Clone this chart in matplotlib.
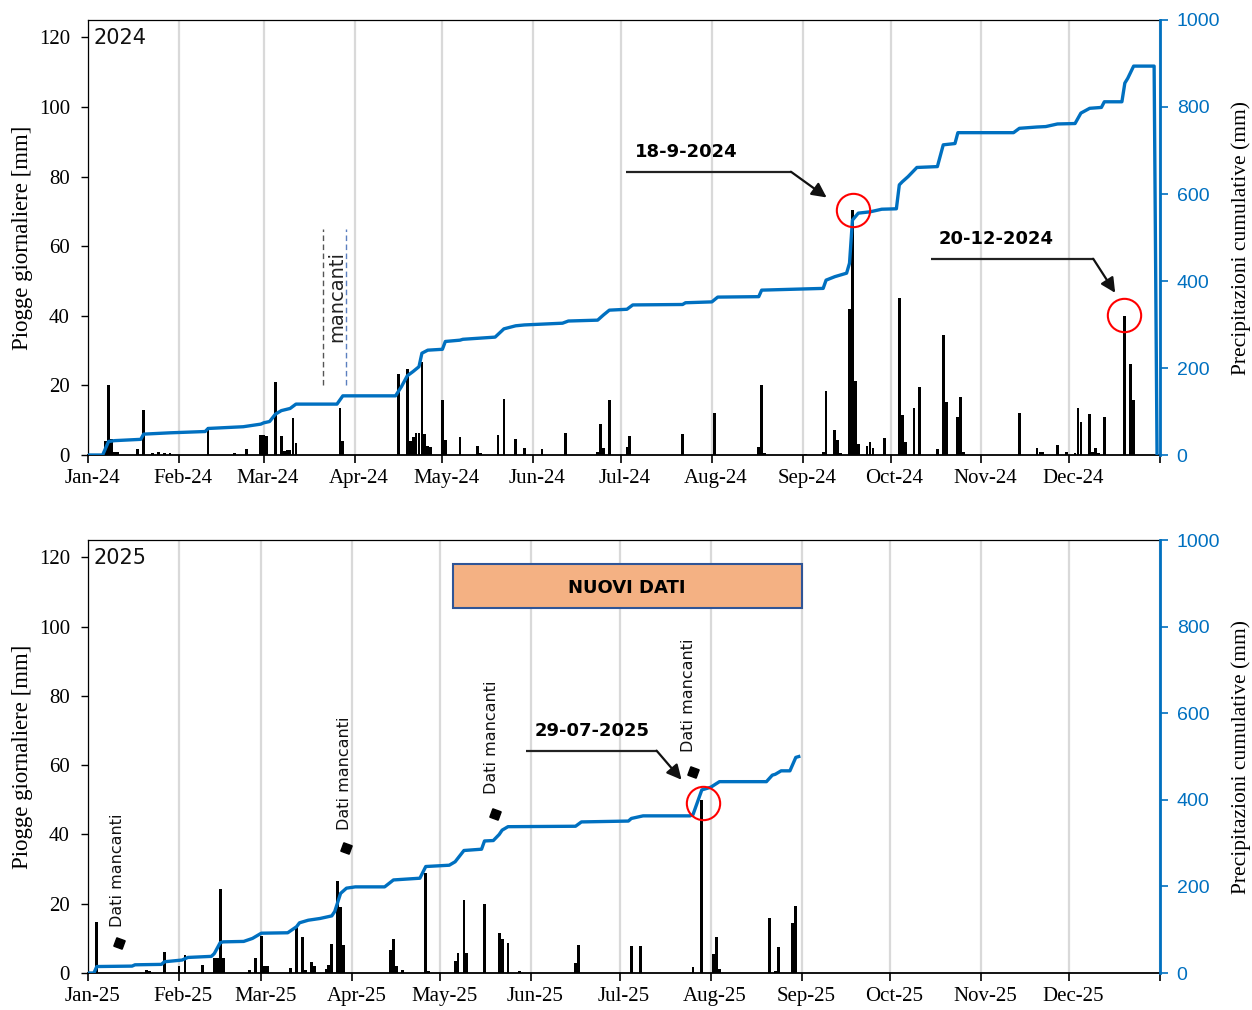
import matplotlib
matplotlib.use('Agg')
import matplotlib.pyplot as plt
import matplotlib.dates as mdates
from matplotlib.patches import Rectangle
from matplotlib.transforms import ScaledTranslation
from datetime import datetime

# ---------------- DATA ----------------
month_names = ['Jan', 'Feb', 'Mar', 'Apr', 'May', 'Jun',
               'Jul', 'Aug', 'Sep', 'Oct', 'Nov', 'Dec']

# 2024 daily rainfall (mm)
rain24_dates = ['2024-01-07', '2024-01-08', '2024-01-09', '2024-01-10', '2024-01-11',
                '2024-01-18', '2024-01-20', '2024-01-23', '2024-01-25', '2024-01-27',
                '2024-01-29', '2024-02-11', '2024-02-20', '2024-02-24', '2024-02-29',
                '2024-03-01', '2024-03-02', '2024-03-05', '2024-03-07', '2024-03-08',
                '2024-03-09', '2024-03-10', '2024-03-11', '2024-03-12', '2024-03-27',
                '2024-03-28', '2024-04-16', '2024-04-19', '2024-04-20', '2024-04-21',
                '2024-04-22', '2024-04-23', '2024-04-24', '2024-04-25', '2024-04-26',
                '2024-04-27', '2024-05-01', '2024-05-02', '2024-05-07', '2024-05-13',
                '2024-05-14', '2024-05-20', '2024-05-22', '2024-05-26', '2024-05-29',
                '2024-06-04', '2024-06-12', '2024-06-23', '2024-06-24', '2024-06-25',
                '2024-06-27', '2024-07-03', '2024-07-04', '2024-07-22', '2024-08-02',
                '2024-08-17', '2024-08-18', '2024-08-19', '2024-09-02', '2024-09-08',
                '2024-09-09', '2024-09-12', '2024-09-13', '2024-09-14', '2024-09-17',
                '2024-09-18', '2024-09-19', '2024-09-20', '2024-09-23', '2024-09-24',
                '2024-09-25', '2024-09-29', '2024-10-04', '2024-10-05', '2024-10-06',
                '2024-10-09', '2024-10-11', '2024-10-17', '2024-10-19', '2024-10-20',
                '2024-10-24', '2024-10-25', '2024-10-26', '2024-11-14', '2024-11-20',
                '2024-11-21', '2024-11-22', '2024-11-27', '2024-11-30', '2024-12-03',
                '2024-12-04', '2024-12-05', '2024-12-08', '2024-12-09', '2024-12-10',
                '2024-12-11', '2024-12-13', '2024-12-20', '2024-12-22', '2024-12-23']
rain24_mm = [4.0, 20.0, 4.5, 1.0, 1.0,
             1.7, 13.0, 0.7, 0.8, 0.6,
             0.6, 8.0, 0.5, 1.6, 5.8,
             5.8, 5.5, 21.0, 5.5, 1.2,
             1.5, 1.5, 10.5, 3.5, 13.4,
             4.0, 23.2, 24.7, 4.0, 5.3,
             6.4, 6.4, 26.8, 6.0, 2.6,
             2.4, 15.8, 4.2, 5.2, 2.5,
             0.5, 5.8, 16.0, 4.5, 2.1,
             1.6, 6.2, 1.0, 8.8, 2.0,
             15.8, 2.4, 5.5, 6.0, 12.0,
             2.2, 20.0, 0.5, 0.3, 1.0,
             18.3, 7.2, 4.3, 0.5, 42.0,
             70.4, 21.4, 3.2, 2.5, 3.6,
             2.0, 4.9, 45.0, 11.5, 3.6,
             13.4, 19.4, 1.7, 34.6, 15.1,
             10.8, 16.8, 1.0, 12.0, 2.0,
             1.0, 1.0, 3.0, 1.0, 0.5,
             13.4, 9.6, 11.9, 1.0, 2.0,
             0.5, 10.8, 39.8, 26.2, 15.8]

# 2024 cumulative precipitation (mm)
cum24_dates = ['2024-01-01', '2024-01-06', '2024-01-08', '2024-01-10', '2024-01-19',
               '2024-01-20', '2024-01-29', '2024-02-10', '2024-02-11', '2024-02-23',
               '2024-02-29', '2024-03-01', '2024-03-03', '2024-03-05', '2024-03-07',
               '2024-03-10', '2024-03-12', '2024-03-26', '2024-03-28', '2024-04-15',
               '2024-04-17', '2024-04-19', '2024-04-21', '2024-04-23', '2024-04-24',
               '2024-04-26', '2024-05-01', '2024-05-02', '2024-05-07', '2024-05-08',
               '2024-05-19', '2024-05-22', '2024-05-26', '2024-05-29', '2024-06-11',
               '2024-06-13', '2024-06-23', '2024-06-25', '2024-06-27', '2024-07-03',
               '2024-07-05', '2024-07-22', '2024-07-23', '2024-08-01', '2024-08-03',
               '2024-08-17', '2024-08-18', '2024-09-08', '2024-09-09', '2024-09-12',
               '2024-09-16', '2024-09-17', '2024-09-18', '2024-09-20', '2024-09-24',
               '2024-09-28', '2024-10-03', '2024-10-04', '2024-10-05', '2024-10-07',
               '2024-10-10', '2024-10-17', '2024-10-19', '2024-10-23', '2024-10-24',
               '2024-11-12', '2024-11-14', '2024-11-20', '2024-11-23', '2024-11-27',
               '2024-12-03', '2024-12-05', '2024-12-08', '2024-12-12', '2024-12-13',
               '2024-12-19', '2024-12-20', '2024-12-21', '2024-12-23', '2024-12-30',
               '2024-12-31']
cum24_mm = [0, 0, 31, 33, 36,
            48, 51, 54, 61, 65,
            71, 74, 77, 94, 102,
            107, 117, 117, 136, 136,
            157, 182, 192, 203, 234,
            241, 243, 261, 264, 266,
            271, 290, 297, 299, 303,
            308, 310, 322, 333, 335,
            345, 346, 350, 352, 363,
            364, 379, 383, 402, 410,
            418, 441, 540, 556, 559,
            565, 566, 621, 628, 640,
            661, 663, 713, 716, 741,
            741, 751, 754, 755, 761,
            762, 786, 797, 799, 812,
            812, 855, 866, 894, 894,
            0]

# 2025 daily rainfall (mm)
rain25_dates = ['2025-01-04', '2025-01-21', '2025-01-22', '2025-01-27', '2025-02-01',
                '2025-02-03', '2025-02-09', '2025-02-13', '2025-02-14', '2025-02-15',
                '2025-02-16', '2025-02-25', '2025-02-27', '2025-03-01', '2025-03-02',
                '2025-03-03', '2025-03-11', '2025-03-13', '2025-03-15', '2025-03-16',
                '2025-03-18', '2025-03-19', '2025-03-23', '2025-03-24', '2025-03-25',
                '2025-03-27', '2025-03-28', '2025-03-29', '2025-04-14', '2025-04-15',
                '2025-04-16', '2025-04-18', '2025-04-26', '2025-04-27', '2025-05-06',
                '2025-05-07', '2025-05-09', '2025-05-10', '2025-05-16', '2025-05-21',
                '2025-05-22', '2025-05-24', '2025-05-28', '2025-06-16', '2025-06-17',
                '2025-07-05', '2025-07-08', '2025-07-26', '2025-07-29', '2025-08-02',
                '2025-08-03', '2025-08-04', '2025-08-21', '2025-08-23', '2025-08-24',
                '2025-08-29', '2025-08-30']
rain25_mm = [14.6, 0.8, 0.5, 6.0, 1.9,
             5.1, 2.4, 4.3, 4.3, 24.3,
             4.3, 1.0, 4.3, 10.6, 2.0,
             2.0, 1.5, 13.3, 10.4, 1.0,
             3.3, 2.0, 1.2, 2.4, 8.5,
             26.5, 19.0, 8.2, 6.7, 9.8,
             1.9, 1.0, 28.9, 0.5, 3.5,
             5.8, 21.2, 5.8, 20.0, 11.7,
             9.8, 8.7, 0.6, 3.0, 8.2,
             7.7, 7.7, 1.7, 50.0, 5.4,
             10.5, 1.3, 15.8, 0.6, 7.4,
             14.4, 19.4]

# 2025 cumulative precipitation (mm)
cum25_dates = ['2025-01-01', '2025-01-03', '2025-01-04', '2025-01-16', '2025-01-17',
               '2025-01-26', '2025-01-27', '2025-02-02', '2025-02-04', '2025-02-12',
               '2025-02-13', '2025-02-15', '2025-02-16', '2025-02-23', '2025-02-26',
               '2025-03-01', '2025-03-10', '2025-03-13', '2025-03-14', '2025-03-17',
               '2025-03-21', '2025-03-25', '2025-03-26', '2025-03-28', '2025-03-30',
               '2025-04-02', '2025-04-12', '2025-04-15', '2025-04-24', '2025-04-26',
               '2025-05-04', '2025-05-06', '2025-05-09', '2025-05-15', '2025-05-16',
               '2025-05-19', '2025-05-21', '2025-05-22', '2025-05-24', '2025-06-16',
               '2025-06-18', '2025-07-04', '2025-07-05', '2025-07-09', '2025-07-25',
               '2025-07-26', '2025-07-29', '2025-07-30', '2025-08-01', '2025-08-04',
               '2025-08-20', '2025-08-22', '2025-08-23', '2025-08-25', '2025-08-28',
               '2025-08-30', '2025-08-31']
cum25_mm = [0, 0, 15, 16, 19,
            20, 26, 30, 36, 38.5,
            45, 70, 72, 73, 80,
            92, 93, 107, 116, 122,
            126, 132, 142, 184, 196,
            199, 199, 215, 219, 246,
            249, 257, 283, 286, 305,
            306, 320, 330, 338, 339,
            349, 351, 357, 363, 363,
            366, 423, 425, 429, 442,
            442, 457, 459, 467, 467,
            498, 500]

# ---------------- STYLE ----------------
BLUE = '#0070C0'
SERIF = 'Liberation Serif'
SANS = 'DejaVu Sans'

fig = plt.figure(figsize=(12.52, 10.10), dpi=100)


def d(year, day):
    """x coordinate for a fractional day offset from 1 Jan of year."""
    return mdates.date2num(datetime(year, 1, 1)) + day


def to_num(strs):
    return [mdates.date2num(datetime.strptime(s, '%Y-%m-%d')) for s in strs]


def make_panel(rect, year, rdates, rvals, cdates, cvals):
    ax = fig.add_axes(rect)
    ax2 = ax.twinx()
    start = mdates.date2num(datetime(year, 1, 1))
    end = mdates.date2num(datetime(year + 1, 1, 1))
    ax.set_xlim(start, end)
    ax.set_ylim(0, 125)
    ax2.set_ylim(0, 1000)

    ticks = [mdates.date2num(datetime(year, m, 1)) for m in range(1, 13)] + [end]
    ax.set_xticks(ticks)
    ax.set_xticklabels([f'{m}-{year % 100:02d}' for m in month_names] + [''],
                       fontfamily=SERIF, fontsize=15)
    ax.grid(axis='x', color='#D9D9D9', lw=1.6)
    ax.set_axisbelow(True)
    ax.tick_params(axis='x', direction='out', length=6, width=1.2, pad=4)
    for lab in ax.get_xticklabels():
        lab.set_transform(lab.get_transform() + ScaledTranslation(4 / 100, 0, fig.dpi_scale_trans))

    ax.set_yticks([0, 20, 40, 60, 80, 100, 120])
    ax.set_yticklabels(['0', '20', '40', '60', '80', '100', '120'], fontfamily=SERIF, fontsize=15)
    ax.tick_params(axis='y', direction='out', length=5, width=1.0, pad=8)
    ax.set_ylabel('Piogge giornaliere [mm]', fontfamily=SERIF, fontsize=16.5, labelpad=4)

    ax2.set_yticks([0, 200, 400, 600, 800, 1000])
    ax2.set_yticklabels(['0', '200', '400', '600', '800', '1000'],
                        fontfamily='Liberation Sans', fontsize=14, color=BLUE)
    ax2.tick_params(axis='y', direction='out', length=6, width=1.2, colors=BLUE, pad=6)
    ax2.set_ylabel('Precipitazioni cumulative (mm)', fontfamily=SERIF, fontsize=15.5,
                   labelpad=8)

    for sp in ['top', 'left']:
        ax.spines[sp].set_linewidth(0.9)
    ax.spines['bottom'].set_linewidth(1.3)
    ax2.spines['right'].set_color(BLUE)
    ax2.spines['right'].set_linewidth(2.0)
    for sp in ['top', 'left', 'bottom']:
        ax2.spines[sp].set_visible(False)

    ax.bar(to_num(rdates), rvals, width=0.95, color='black', zorder=2)
    ax2.plot(to_num(cdates), cvals, color=BLUE, lw=2.4, solid_joinstyle='round', zorder=3)

    ax.text(0.005, 0.958, str(year), transform=ax.transAxes, fontsize=15,
            fontfamily=SANS, va='center', ha='left', color='#111111')
    return ax, ax2


def arrow(ax2, ax, year, x0, xc, x1, y0, y1):
    tr = ax.transData
    ax2.plot([d(year, x0), d(year, xc)], [y0, y0], color='#222222', lw=1.6,
             transform=tr, zorder=6, solid_capstyle='butt')
    ax2.annotate('', xy=(d(year, x1), y1), xytext=(d(year, xc), y0),
                 xycoords=tr, textcoords=tr,
                 arrowprops=dict(arrowstyle='-|>', color='#111111', lw=1.6,
                                 mutation_scale=22, shrinkA=0, shrinkB=0),
                 zorder=6)


def circle(ax2, ax, year, x, y):
    ax2.plot([d(year, x)], [y], marker='o', ms=24, mfc='none', mec='red', mew=1.5,
             transform=ax.transData, zorder=7)


# ---------------- TOP PANEL (2024) ----------------
ax, ax2 = make_panel([0.0703, 0.5495, 0.8562, 0.4307], 2024,
                     rain24_dates, rain24_mm, cum24_dates, cum24_mm)
tr = ax.transData
ax2.text(d(2024, 204.2), 87.2, '18-9-2024', transform=tr, fontsize=13,
         fontweight='bold', fontfamily=SANS, ha='center', va='center', zorder=8)
arrow(ax2, ax, 2024, 183.7, 240.0, 252.2, 81.4, 74.0)
circle(ax2, ax, 2024, 261.1, 70.5)
ax2.text(d(2024, 310.2), 62.2, '20-12-2024', transform=tr, fontsize=13,
         fontweight='bold', fontfamily=SANS, ha='center', va='center', zorder=8)
arrow(ax2, ax, 2024, 287.7, 343.2, 350.7, 56.4, 46.6)
circle(ax2, ax, 2024, 353.8, 40.3)
# missing data band
ax2.plot([d(2024, 80.4)] * 2, [20, 65], ls=(0, (4, 2.5)), color='#555555', lw=1.0, transform=tr)
ax2.plot([d(2024, 88.2)] * 2, [20, 65], ls=(0, (4, 2.5)), color='#5B7FBF', lw=1.0, transform=tr)
ax2.text(d(2024, 85.0), 45.5, 'mancanti', transform=tr, rotation=90, fontsize=14,
         fontfamily=SANS, ha='center', va='center', color='#222222', zorder=8)

# ---------------- BOTTOM PANEL (2025) ----------------
bx, bx2 = make_panel([0.0703, 0.0366, 0.8562, 0.4287], 2025,
                     rain25_dates, rain25_mm, cum25_dates, cum25_mm)
tr = bx.transData
bx2.add_patch(Rectangle((d(2025, 124.2), 105.3), 118.8, 12.7, transform=tr,
                        facecolor='#F4B183', edgecolor='#2F5597', lw=1.5, zorder=5))
bx2.text(d(2025, 183.5), 111.3, 'NUOVI DATI', transform=tr, fontsize=13,
         fontweight='bold', fontfamily=SANS, ha='center', va='center', zorder=8)
bx2.text(d(2025, 171.8), 70.0, '29-07-2025', transform=tr, fontsize=13,
         fontweight='bold', fontfamily=SANS, ha='center', va='center', zorder=8)
arrow(bx2, bx, 2025, 149.1, 193.6, 202.1, 64.2, 55.8)
circle(bx2, bx, 2025, 209.3, 49.2)

missing_text = [(9.9, 29.8), (87.5, 57.8), (137.5, 68.0), (204.5, 80.1)]
missing_mark = [(10.6, 8.7), (87.8, 36.1), (138.5, 46.0), (205.9, 58.1)]
for (tx, ty), (mx, my) in zip(missing_text, missing_mark):
    bx2.text(d(2025, tx), ty, 'Dati mancanti', transform=tr, rotation=90, fontsize=11.5,
             fontfamily=SANS, ha='center', va='center', color='#111111', zorder=8)
    bx2.plot([d(2025, mx)], [my], marker=(4, 0, 25), ms=9, color='black',
             transform=tr, zorder=8)

fig.savefig('out.png', dpi=100)
